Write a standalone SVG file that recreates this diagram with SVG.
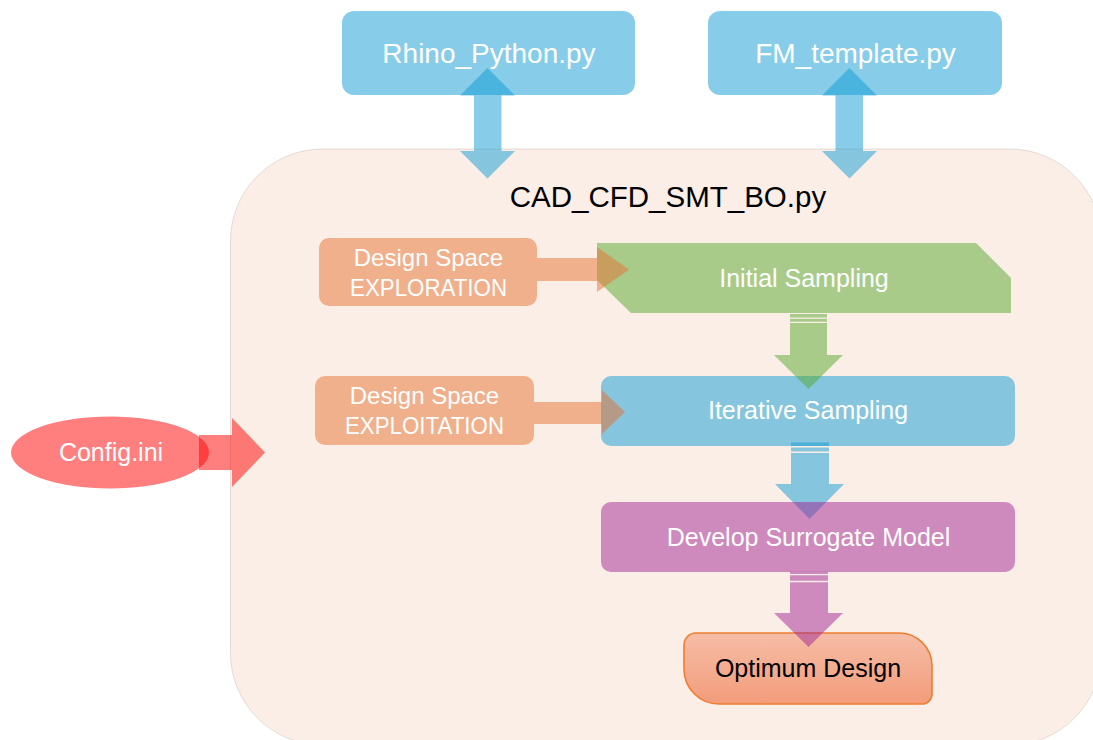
<svg xmlns="http://www.w3.org/2000/svg" width="1093" height="740" viewBox="0 0 1093 740">
  <defs>
    <linearGradient id="optGrad" x1="0" y1="0" x2="0" y2="1">
      <stop offset="0" stop-color="#F5BDA6"/>
      <stop offset="1" stop-color="#F39C7B"/>
    </linearGradient>
    <style>
      text { font-family: "Liberation Sans", Arial, sans-serif; text-anchor: middle; }
      .lbl { fill: #FFFFFF; font-size: 25px; }
      .file { fill: #FFFFFF; font-size: 28px; }
      .blue { fill: #0F9BD3; fill-opacity: 0.5; }
      .green { fill: #55A82E; fill-opacity: 0.5; }
      .orange { fill: #E57232; fill-opacity: 0.5; }
      .purple { fill: #A12494; fill-opacity: 0.5; }
      .red { fill: #FF0000; fill-opacity: 0.5; }
    </style>
  </defs>

  <rect width="1093" height="740" fill="#FFFFFF"/>

  <!-- main script container -->
  <g id="cad_cfd_smt_bo">
    <rect x="230.5" y="149" width="871" height="596" rx="92" ry="92" fill="#FBEEE6" stroke="#DDD3CD" stroke-width="0.8"/>
    <text x="668" y="207" style="font-size:29.5px" fill="#000000">CAD_CFD_SMT_BO.py</text>
  </g>

  <!-- external modules -->
  <g id="rhino_python">
    <rect class="blue" x="342" y="11" width="293" height="84" rx="12" ry="12"/>
    <text class="file" x="489" y="63">Rhino_Python.py</text>
  </g>
  <g id="fm_template">
    <rect class="blue" x="708" y="11" width="294" height="84" rx="12" ry="12"/>
    <text class="file" x="855.5" y="63">FM_template.py</text>
  </g>

  <!-- configuration file -->
  <g id="config_ini">
    <ellipse class="red" cx="110" cy="452.5" rx="99" ry="36"/>
    <text class="lbl" x="111" y="461">Config.ini</text>
  </g>

  <!-- sampling strategies -->
  <g id="design_space_exploration">
    <rect class="orange" x="319" y="238" width="218" height="68" rx="10" ry="10"/>
    <text x="428.5" y="265.5" fill="#FFFFFF" style="font-size:24px">Design Space</text>
    <text x="428.5" y="295.5" fill="#FFFFFF" style="font-size:24px" textLength="157" lengthAdjust="spacingAndGlyphs">EXPLORATION</text>
  </g>
  <g id="design_space_exploitation">
    <rect class="orange" x="315" y="376" width="219" height="69" rx="10" ry="10"/>
    <text x="424.5" y="404" fill="#FFFFFF" style="font-size:24px">Design Space</text>
    <text x="424.5" y="434" fill="#FFFFFF" style="font-size:24px" textLength="159" lengthAdjust="spacingAndGlyphs">EXPLOITATION</text>
  </g>

  <g id="initial_sampling">
    <path class="green" d="M597,243 L976,243 L1011,278 L1011,313 L631,313 L597,280 Z"/>
    <text class="lbl" x="804" y="287">Initial Sampling</text>
  </g>

  <g id="iterative_sampling">
    <rect class="blue" x="601" y="376" width="414" height="70" rx="10" ry="10"/>
    <text class="lbl" x="808" y="419">Iterative Sampling</text>
  </g>

  <g id="optimum_design">
    <path d="M696,633 L899,633 A33,33 0 0 1 932,666 L932,694 A10,10 0 0 1 922,704 L719,704 A35,35 0 0 1 684,669 L684,645 A12,12 0 0 1 696,633 Z" fill="url(#optGrad)" stroke="#ED7D31" stroke-width="1.6"/>
    <text x="808" y="677" fill="#000000" style="font-size:25px">Optimum Design</text>
  </g>

  <!-- connectors -->
  <g id="connectors">
    <!-- two-way links to the external modules -->
    <path class="blue" d="M487.5,68 L515,95.5 L501.5,95.5 L501.5,151 L515,151 L487.5,178.5 L460,151 L474,151 L474,95.5 L460,95.5 Z"/>
    <path class="blue" d="M849.5,68 L877,95.5 L863,95.5 L863,151 L877,151 L849.5,178.5 L822,151 L835.5,151 L835.5,95.5 L822,95.5 Z"/>

    <!-- configuration input -->
    <path class="red" d="M199,435 L232,435 L232,418 L265,452.5 L232,487 L232,470 L199,470 Z"/>

    <!-- strategy arrows -->
    <path class="orange" d="M537,258 L597,258 L597,247 L629,269.5 L597,292 L597,281 L537,281 Z"/>
    <path class="orange" d="M534,402 L602,402 L602,390 L625,412 L602,434 L602,424 L534,424 Z"/>

    <!-- striped flow arrows -->
    <path class="green" d="M790,314 H827 V317.5 H790 Z M790,318.8 H827 V321.8 H790 Z M790,323 H827 V355 H843 L808.5,389 L774,355 H790 Z"/>
    <path class="blue" d="M791,442.5 H829 V446 H791 Z M791,447.5 H829 V451.5 H791 Z M791,453 H829 V484 H844 L809.5,519 L775,484 H791 Z"/>
    <path class="purple" d="M790,571.7 H828 V574 H790 Z M790,575.2 H828 V580.8 H790 Z M790,582.3 H828 V613 H843 L808.5,647 L774,613 H790 Z"/>
  </g>

  <g id="develop_surrogate_model">
    <rect class="purple" x="601" y="502" width="414" height="70" rx="10" ry="10"/>
    <text class="lbl" x="808.5" y="546">Develop Surrogate Model</text>
  </g>
</svg>
